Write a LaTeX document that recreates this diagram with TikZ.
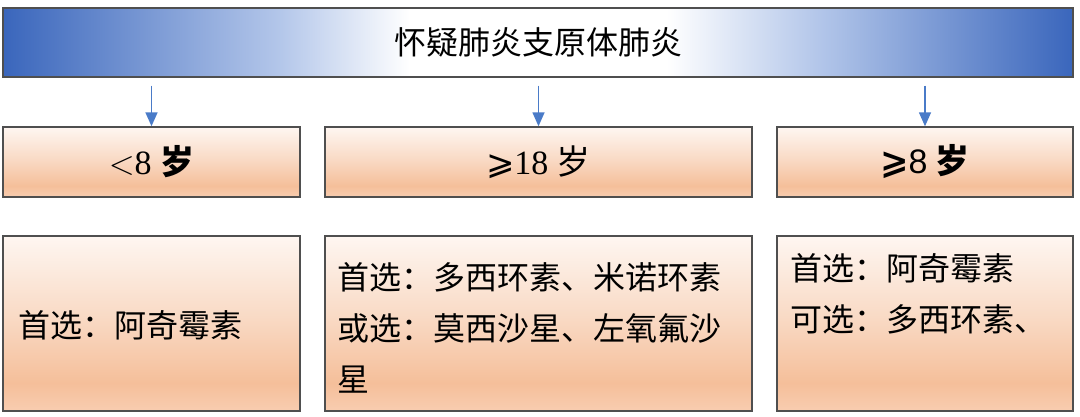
\documentclass[tikz,border=0pt]{standalone}
\usepackage{fontspec}
\setmainfont{Liberation Serif}
\newfontfamily\cjk{Noto Sans CJK SC}
\newfontfamily\dejavu{DejaVu Sans}
\newfontfamily\arialf{Liberation Sans}
\newfontfamily\lmr{Latin Modern Roman}
\usetikzlibrary{arrows.meta}
\definecolor{barblue}{HTML}{3A66BC}
\definecolor{barmid}{HTML}{B4C7EA}
\definecolor{arrowblue}{HTML}{4A7BC8}
\definecolor{edge}{HTML}{4F4F4F}
\definecolor{pk0}{HTML}{FEF6F1}
\definecolor{pk1}{HTML}{F9DAC5}
\definecolor{pk2}{HTML}{F5BF9A}
\definecolor{pk3}{HTML}{F8CDB0}
\pgfdeclarehorizontalshading{bluebar}{100bp}{color(0bp)=(barblue); color(25bp)=(barblue); color(38bp)=(barmid); color(44bp)=(white); color(56bp)=(white); color(63bp)=(barmid); color(75bp)=(barblue); color(100bp)=(barblue)}
\pgfdeclareverticalshading{peach}{100bp}{color(0bp)=(pk3); color(25bp)=(pk3); color(33bp)=(pk2); color(52bp)=(pk1); color(75bp)=(pk0); color(100bp)=(pk0)}
\tikzset{
  barbox/.style={draw=edge, line width=1.3pt, shading=bluebar, rectangle, inner sep=0pt},
  agebox/.style={draw=edge, line width=1.4pt, shading=peach, rectangle, inner sep=0pt, minimum height=70pt},
  drugbox/.style={draw=edge, line width=1.4pt, shading=peach, rectangle, inner sep=0pt, minimum height=175pt},
  drugtext/.style={anchor=west, align=left, inner sep=0pt, font=\cjk\fontsize{32}{51}\selectfont},
  agetext/.style={font=\fontsize{34}{40}\selectfont},
  arr/.style={draw=arrowblue, line width=1.5pt, -{Triangle[width=12pt,length=14pt]}, arrowblue}
}
\begin{document}
\begin{tikzpicture}[x=1pt,y=-1pt]
\useasboundingbox (0,0) rectangle (1080,417);
\node[barbox, minimum width=1070pt, minimum height=69pt, font=\cjk\fontsize{32}{38}\selectfont] (top) at (538,42.5) {怀疑肺炎支原体肺炎};
\node[agebox, minimum width=297pt, agetext] (a1) at (151.5,162) {{\lmr <}8 {\cjk\bfseries 岁}};
\node[agebox, minimum width=427pt, agetext] (a2) at (538.5,162) {{\dejavu ⩾}18 {\cjk 岁}};
\node[agebox, minimum width=296pt, agetext] (a3) at (925,162) {{\dejavu\bfseries ⩾}{\arialf 8} {\cjk\bfseries 岁}};
\node[drugbox, minimum width=297pt] (d1) at (151.5,323.5) {};
\node[drugbox, minimum width=427pt] (d2) at (538.5,323.5) {};
\node[drugbox, minimum width=296pt] (d3) at (925,323.5) {};
\node[drugtext] (t1) at (18,325) {首选：阿奇霉素};
\node[drugtext] (t2) at (337,327.5) {首选：多西环素、米诺环素\\或选：莫西沙星、左氧氟沙\\星};
\node[drugtext] (t3) at (790,294) {首选：阿奇霉素\\可选：多西环素、};
\draw[arr] ([yshift=-8pt]top.south -| a1.north) -- (a1.north);
\draw[arr] ([yshift=-8pt]top.south -| a2.north) -- (a2.north);
\draw[arr] ([yshift=-8pt]top.south -| a3.north) -- (a3.north);
\end{tikzpicture}
\end{document}
